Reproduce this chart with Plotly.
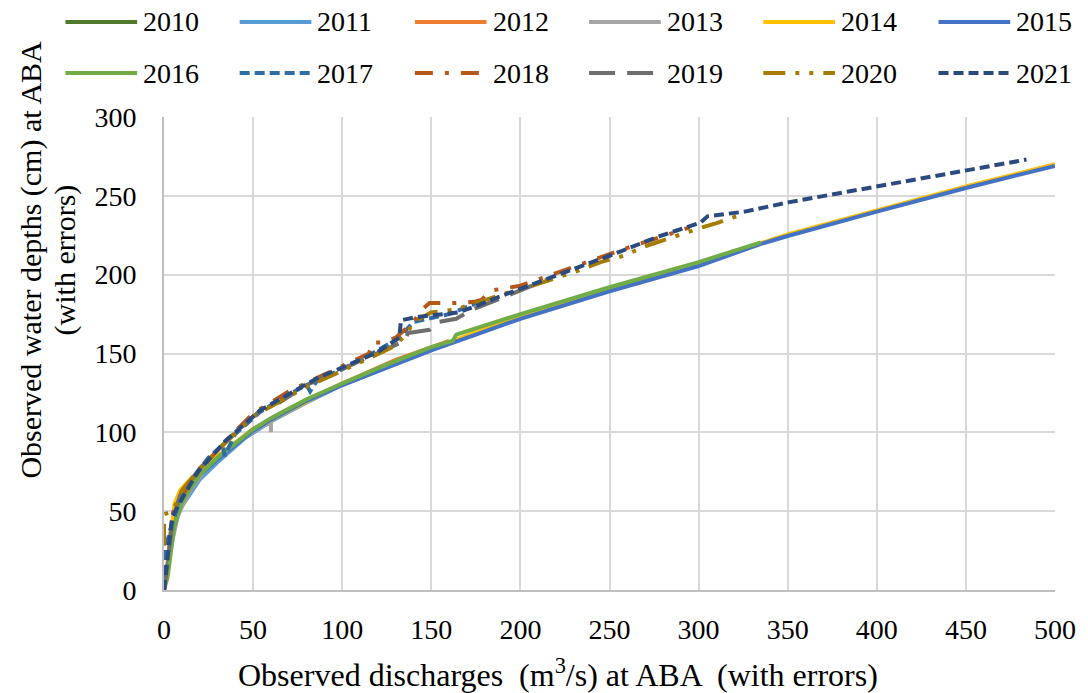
import plotly.graph_objects as go

# ---- stage-discharge observations per year: discharge Q (m3/s), depth H (cm) ----
years = ["2010", "2011", "2012", "2013", "2014", "2015",
         "2016", "2017", "2018", "2019", "2020", "2021"]

q_2010 = [0, 3, 6, 10, 15, 20, 30, 40, 50, 60, 70, 80]
h_2010 = [0, 22, 45, 56, 65, 73, 83, 92, 101, 108, 114, 120]

q_2011 = [0, 3, 6, 10, 15, 20, 30, 45, 60, 80, 100, 120]
h_2011 = [0, 20, 42, 53, 62, 70, 81, 96, 107, 119, 130, 139]

q_2012 = [0, 4, 8, 12, 20, 30, 50, 70, 100, 130, 160]
h_2012 = [0, 30, 50, 59, 73, 84, 102, 115, 131, 146, 158]

q_2013 = [0, 4, 8, 15, 25, 40, 55, 60, 60]
h_2013 = [0, 28, 48, 64, 79, 93, 104, 106, 100]

q_2014 = [0, 3, 6, 9, 12, 20, 30, 50, 100, 150, 200, 250, 300, 350, 400, 450, 500]
h_2014 = [0, 30, 55, 63, 67, 76, 85, 102, 131, 153, 174, 191, 207, 225.5, 241, 256, 270]

q_2015 = [0, 2, 5, 8, 10, 15, 20, 30, 40, 50, 60, 80, 100, 125, 150, 175, 200, 250, 300, 335, 350, 400, 450, 500]
h_2015 = [0, 14, 38, 50, 56, 65, 73, 83, 92, 101, 108, 120, 130, 141, 152, 162, 172, 189.5, 205.5, 219.5, 224.5, 240, 255, 269]

q_2016 = [0, 2, 4, 6, 10, 15, 20, 30, 40, 50, 60, 80, 100, 125, 150, 162, 164, 200, 250, 300, 335]
h_2016 = [0, 8, 25, 42, 55, 65, 73, 84, 93, 102, 109, 121, 131, 143, 154, 158, 162, 175, 192, 208, 220.5]

q_2017 = [0, 0.5, 1, 4, 8, 15, 25, 33, 34, 40, 54, 70, 80, 82, 86, 100, 120, 132, 140, 160, 180]
h_2017 = [0, 20, 27, 40, 54, 69, 84, 92, 85, 99, 113, 124, 130, 126, 133, 140, 152, 160, 170, 175, 184]

q_2018 = [0, 5, 10, 20, 35, 50, 70, 90, 100, 115, 117, 123, 130, 140, 144, 149, 156, 165,
          175, 178, 184, 200, 230, 260, 295]
h_2018 = [0, 49, 60, 76, 95, 112, 126, 137, 142, 150, 157, 157, 160, 170, 177, 182, 182, 182,
          183, 184, 190, 193, 205, 217, 230]

q_2019 = [0, 5, 9, 20, 40, 50, 59, 65, 80, 102, 120, 135, 137, 149, 154, 164, 173, 178, 200, 215]
h_2019 = [0, 45, 60, 77, 100, 110, 118, 119, 130, 141, 150, 158, 163, 165, 170, 172, 178, 180, 190, 197]

q_2020 = [0, 0, 5, 10, 20, 35, 50, 80, 100, 130, 137, 140, 150, 164, 175, 191, 204, 218,
          231, 245, 258, 270, 287, 294, 302, 311, 326]
h_2020 = [28, 48, 50, 63, 77, 94, 110, 129, 139, 155, 164, 170, 176, 178, 182, 188, 192, 197,
          202, 208, 212, 218, 224, 227, 230, 233, 239]

q_2021 = [0, 2, 4.5, 10.6, 19, 34, 54, 87, 100, 120, 132, 133, 141, 165, 175, 188, 200, 230,
          250, 277, 301, 305, 311, 326, 351, 400, 450, 484]
h_2021 = [0, 20, 46, 59, 75, 94, 114, 135, 141, 151, 160, 171, 173, 176, 180, 186, 191, 203,
          212, 224, 233, 237, 238, 240, 246, 256, 266, 273]

x_ticks = [0, 50, 100, 150, 200, 250, 300, 350, 400, 450, 500]
y_ticks = [0, 50, 100, 150, 200, 250, 300]

series = {
    "2010": (q_2010, h_2010), "2011": (q_2011, h_2011), "2012": (q_2012, h_2012),
    "2013": (q_2013, h_2013), "2014": (q_2014, h_2014), "2015": (q_2015, h_2015),
    "2016": (q_2016, h_2016), "2017": (q_2017, h_2017), "2018": (q_2018, h_2018),
    "2019": (q_2019, h_2019), "2020": (q_2020, h_2020), "2021": (q_2021, h_2021),
}

# ---- line styles ----
styles = {
    "2010": dict(color="#4F7A2B", dash="solid"),
    "2011": dict(color="#5B9BD5", dash="solid"),
    "2012": dict(color="#ED7D31", dash="solid"),
    "2013": dict(color="#A5A5A5", dash="solid"),
    "2014": dict(color="#FFC000", dash="solid"),
    "2015": dict(color="#4472C4", dash="solid"),
    "2016": dict(color="#70AD47", dash="solid"),
    "2017": dict(color="#2E6DA6", dash="10px,5px"),
    "2018": dict(color="#B5581A", dash="18px,12px,4px,12px"),
    "2019": dict(color="#6E6E6E", dash="26px,12px"),
    "2020": dict(color="#A67C00", dash="22px,10px,4px,10px,4px,10px"),
    "2021": dict(color="#2A4A80", dash="10px,5px"),
}
LINE_W = 4
FONT = "Liberation Serif, Times New Roman, serif"

W, H = 1088, 693
ML, MR, MT, MB = 164, 29, 117, 103
PW, PH = W - ML - MR, H - MT - MB


def px_x(px):
    return (px - ML) / PW


def px_y(py):
    return (H - MB - py) / PH


fig = go.Figure()
for yr in years:
    q, h = series[yr]
    st = styles[yr]
    fig.add_trace(go.Scatter(
        x=q, y=h, mode="lines", name=yr, showlegend=False,
        line=dict(color=st["color"], dash=st["dash"], width=LINE_W),
    ))

# ---- legend: two rows of six entries drawn above the plot ----
shapes, annotations = [], []
col_left = [65, 240, 416, 591, 766, 942]
row_y = [22, 73]
line_len = 72
for i, yr in enumerate(years):
    r, c = divmod(i, 6)
    x0 = col_left[c]
    yy = row_y[r]
    st = styles[yr]
    shapes.append(dict(
        type="line", xref="paper", yref="paper",
        x0=px_x(x0), x1=px_x(x0 + line_len), y0=px_y(yy), y1=px_y(yy),
        line=dict(color=st["color"], dash=st["dash"], width=LINE_W),
    ))
    annotations.append(dict(
        text=yr, xref="paper", yref="paper", x=px_x(x0 + line_len + 4), y=px_y(yy),
        xanchor="left", yanchor="middle", showarrow=False,
        font=dict(family=FONT, size=28, color="#000000"),
    ))

# ---- axis titles ----
y_title_lines = [("Observed water depths (cm) at ABA", 30), ("(with errors)", 65)]
for txt, xc in y_title_lines:
    annotations.append(dict(
        text=txt, xref="paper", yref="paper", x=px_x(xc), y=px_y(260),
        xanchor="center", yanchor="middle", textangle=-90, showarrow=False,
        font=dict(family=FONT, size=30, color="#000000"),
    ))
annotations.append(dict(
    text="Observed discharges  (m<sup>3</sup>/s) at ABA  (with errors)",
    xref="paper", yref="paper", x=px_x(560), y=px_y(673),
    xanchor="center", yanchor="middle", showarrow=False,
    font=dict(family=FONT, size=32, color="#000000"),
))

fig.update_layout(
    width=W, height=H,
    margin=dict(l=ML, r=MR, t=MT, b=MB, pad=0),
    paper_bgcolor="white", plot_bgcolor="white",
    shapes=shapes, annotations=annotations,
    showlegend=False,
    font=dict(family=FONT, size=28, color="#000000"),
)
fig.update_xaxes(
    range=[0, 500], tickvals=x_ticks, ticktext=[str(v) for v in x_ticks],
    showgrid=True, gridcolor="#D9D9D9", gridwidth=2,
    showline=True, linecolor="#BFBFBF", linewidth=2, zeroline=False,
    ticks="", ticklabelstandoff=13,
    tickfont=dict(family=FONT, size=28, color="#000000"),
)
fig.update_yaxes(
    range=[0, 300], tickvals=y_ticks, ticktext=[str(v) for v in y_ticks],
    showgrid=True, gridcolor="#D9D9D9", gridwidth=2,
    showline=True, linecolor="#BFBFBF", linewidth=2, zeroline=False,
    ticks="", ticklabelstandoff=20,
    tickfont=dict(family=FONT, size=28, color="#000000"),
)

fig.write_html("out.html")
